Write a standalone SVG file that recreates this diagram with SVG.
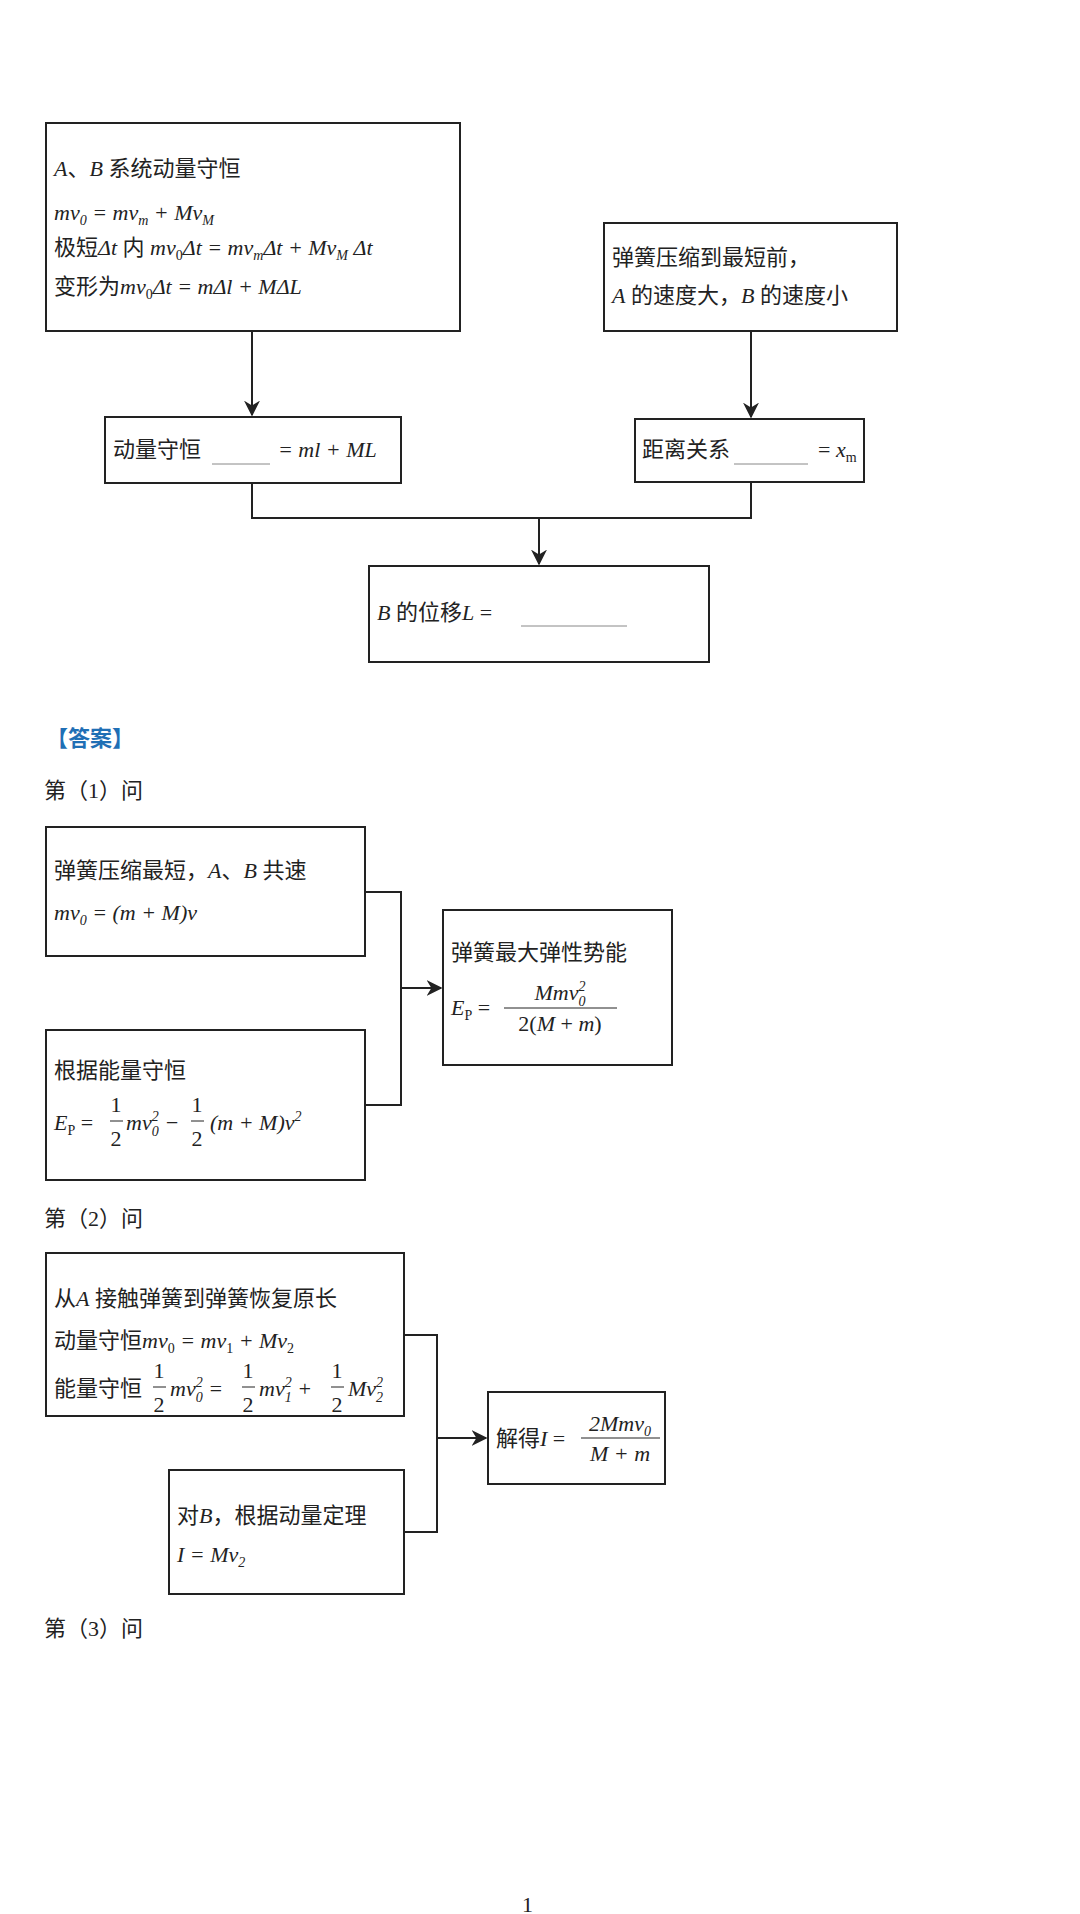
<svg xmlns="http://www.w3.org/2000/svg" width="1080" height="1914" viewBox="0 0 1080 1914">
<defs>
<style>
.b{fill:#fff;stroke:#222;stroke-width:2}
.t{font-family:"Liberation Serif","Noto Sans CJK SC",serif;font-size:22px;fill:#222}
.i{font-style:italic}
.s{font-size:14px}
.c{fill:none;stroke:#222;stroke-width:2}
.u{stroke:#888;stroke-width:1}
</style>
<marker id="a" viewBox="0 0 10 10" refX="9" refY="5" markerWidth="8" markerHeight="8" orient="auto"><path d="M0,0 L10,5 L0,10 L3,5 z" fill="#222"/></marker>
</defs>
<rect width="1080" height="1914" fill="#fff"/>
<g id="connectors">
<path class="c" d="M252,331 V415" marker-end="url(#a)"/>
<path class="c" d="M751,331 V417" marker-end="url(#a)"/>
<path class="c" d="M252,483 V518 H751 V482"/>
<path class="c" d="M539,518 V564" marker-end="url(#a)"/>
<path class="c" d="M365,892 H401 V1105 H365"/>
<path class="c" d="M401,988 H441" marker-end="url(#a)"/>
<path class="c" d="M404,1335 H437 V1532 H404"/>
<path class="c" d="M437,1438 H486" marker-end="url(#a)"/>
</g>
<g id="n1"><rect class="b" x="46" y="123" width="414" height="208"/>
<text class="t" x="54" y="176"><tspan class="i">A</tspan>、<tspan class="i">B</tspan> 系统动量守恒</text>
<text class="t i" x="54" y="220">mv<tspan class="s" dy="5">0</tspan><tspan dy="-5"> = mv</tspan><tspan class="s" dy="5">m</tspan><tspan dy="-5"> + Mv</tspan><tspan class="s" dy="5">M</tspan></text>
<text class="t" x="54" y="255">极短<tspan class="i">Δt</tspan> 内 <tspan class="i">mv</tspan><tspan class="s" dy="5">0</tspan><tspan class="i" dy="-5">Δt = mv</tspan><tspan class="s i" dy="5">m</tspan><tspan class="i" dy="-5">Δt + Mv</tspan><tspan class="s i" dy="5">M</tspan><tspan class="i" dy="-5"> Δt</tspan></text>
<text class="t" x="54" y="294">变形为<tspan class="i">mv</tspan><tspan class="s" dy="5">0</tspan><tspan class="i" dy="-5">Δt = mΔl + MΔL</tspan></text>
</g>
<g id="n2"><rect class="b" x="604" y="223" width="293" height="108"/>
<text class="t" x="612" y="265">弹簧压缩到最短前，</text>
<text class="t" x="612" y="303"><tspan class="i">A</tspan> 的速度大，<tspan class="i">B</tspan> 的速度小</text>
</g>
<g id="n3"><rect class="b" x="105" y="417" width="296" height="66"/>
<text class="t" x="113" y="457">动量守恒</text><line class="u" x1="212" y1="464" x2="270" y2="464"/>
<text class="t i" x="278" y="457">= ml + ML</text>
</g>
<g id="n4"><rect class="b" x="635" y="419" width="229" height="63"/>
<text class="t" x="642" y="457">距离关系</text><line class="u" x1="734" y1="464" x2="808" y2="464"/>
<text class="t" x="818" y="457">= <tspan class="i">x</tspan><tspan class="s" dy="5">m</tspan></text>
</g>
<g id="n5"><rect class="b" x="369" y="566" width="340" height="96"/>
<text class="t" x="377" y="620"><tspan class="i">B</tspan> 的位移<tspan class="i">L</tspan> =</text>
<line class="u" x1="521" y1="626" x2="627" y2="626"/>
</g>
<text x="46" y="746" style="font-family:'Noto Sans CJK SC',sans-serif;font-size:22px;font-weight:bold;fill:#1f6fb5">【答案】</text>
<text class="t" x="44" y="798">第（1）问</text>
<g id="n6"><rect class="b" x="46" y="827" width="319" height="129"/>
<text class="t" x="54" y="878">弹簧压缩最短，<tspan class="i">A</tspan>、<tspan class="i">B</tspan> 共速</text>
<text class="t i" x="54" y="920">mv<tspan class="s" dy="5">0</tspan><tspan dy="-5"> = (m + M)v</tspan></text>
</g>
<g id="n7"><rect class="b" x="46" y="1030" width="319" height="150"/>
<text class="t" x="54" y="1078">根据能量守恒</text>
<text class="t" x="54" y="1130"><tspan class="i">E</tspan><tspan class="s" dy="5">P</tspan><tspan dy="-5"> = </tspan></text>
<text class="t" x="116" y="1112" text-anchor="middle">1</text><line x1="110" y1="1121" x2="123" y2="1121" stroke="#222"/><text class="t" x="116" y="1146" text-anchor="middle">2</text>
<text class="t i" x="126" y="1130">mv<tspan class="s" dy="-9">2</tspan><tspan class="s" dx="-7" dy="15">0</tspan><tspan dy="-6"> −</tspan></text>
<text class="t" x="197" y="1112" text-anchor="middle">1</text><line x1="191" y1="1121" x2="204" y2="1121" stroke="#222"/><text class="t" x="197" y="1146" text-anchor="middle">2</text>
<text class="t i" x="210" y="1130">(m + M)v<tspan class="s" dy="-9">2</tspan></text>
</g>
<g id="n8"><rect class="b" x="443" y="910" width="229" height="155"/>
<text class="t" x="451" y="960">弹簧最大弹性势能</text>
<text class="t" x="451" y="1015"><tspan class="i">E</tspan><tspan class="s" dy="5">P</tspan><tspan dy="-5"> =</tspan></text>
<text class="t i" x="560" y="1000" text-anchor="middle">Mmv<tspan class="s" dy="-9">2</tspan><tspan class="s" dx="-7" dy="15">0</tspan></text>
<line x1="504" y1="1008" x2="617" y2="1008" stroke="#222"/>
<text class="t" x="560" y="1031" text-anchor="middle">2(<tspan class="i">M</tspan> + <tspan class="i">m</tspan>)</text>
</g>
<text class="t" x="44" y="1226">第（2）问</text>
<g id="n9"><rect class="b" x="46" y="1253" width="358" height="163"/>
<text class="t" x="54" y="1306">从<tspan class="i">A</tspan> 接触弹簧到弹簧恢复原长</text>
<text class="t" x="54" y="1348">动量守恒<tspan class="i">mv</tspan><tspan class="s" dy="5">0</tspan><tspan class="i" dy="-5"> = mv</tspan><tspan class="s" dy="5">1</tspan><tspan class="i" dy="-5"> + Mv</tspan><tspan class="s" dy="5">2</tspan></text>
<text class="t" x="54" y="1396">能量守恒</text>
<text class="t" x="159" y="1378" text-anchor="middle">1</text><line x1="153" y1="1387" x2="166" y2="1387" stroke="#222"/><text class="t" x="159" y="1412" text-anchor="middle">2</text>
<text class="t i" x="170" y="1396">mv<tspan class="s" dy="-9">2</tspan><tspan class="s" dx="-7" dy="15">0</tspan><tspan dy="-6"> =</tspan></text>
<text class="t" x="248" y="1378" text-anchor="middle">1</text><line x1="242" y1="1387" x2="255" y2="1387" stroke="#222"/><text class="t" x="248" y="1412" text-anchor="middle">2</text>
<text class="t i" x="259" y="1396">mv<tspan class="s" dy="-9">2</tspan><tspan class="s" dx="-7" dy="15">1</tspan><tspan dy="-6"> +</tspan></text>
<text class="t" x="337" y="1378" text-anchor="middle">1</text><line x1="331" y1="1387" x2="344" y2="1387" stroke="#222"/><text class="t" x="337" y="1412" text-anchor="middle">2</text>
<text class="t i" x="348" y="1396">Mv<tspan class="s" dy="-9">2</tspan><tspan class="s" dx="-7" dy="15">2</tspan></text>
</g>
<g id="n10"><rect class="b" x="169" y="1470" width="235" height="124"/>
<text class="t" x="177" y="1523">对<tspan class="i">B</tspan>，根据动量定理</text>
<text class="t i" x="177" y="1562">I = Mv<tspan class="s" dy="5">2</tspan></text>
</g>
<g id="n11"><rect class="b" x="488" y="1392" width="177" height="92"/>
<text class="t" x="496" y="1446">解得<tspan class="i">I</tspan> =</text>
<text class="t i" x="620" y="1431" text-anchor="middle">2Mmv<tspan class="s" dy="5">0</tspan></text>
<line x1="581" y1="1438" x2="660" y2="1438" stroke="#222"/>
<text class="t i" x="620" y="1461" text-anchor="middle">M + m</text>
</g>
<text class="t" x="44" y="1636">第（3）问</text>
<text class="t" x="522" y="1912">1</text>
</svg>
